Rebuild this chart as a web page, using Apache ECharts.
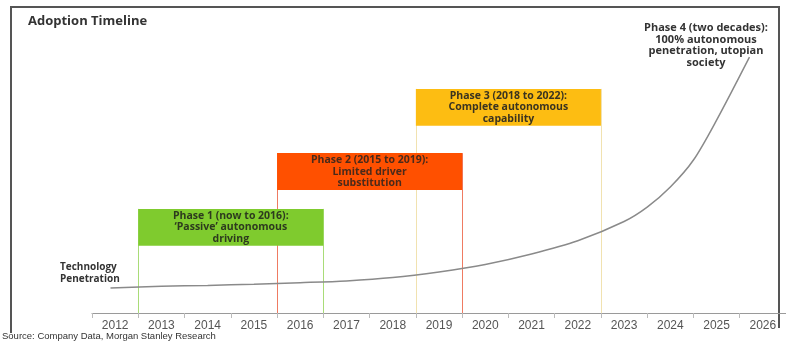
<!DOCTYPE html>
<html>
<head>
<meta charset="utf-8">
<script src="https://cdn.jsdelivr.net/npm/echarts@6/dist/echarts.min.js"></script>
<style>
html,body{margin:0;padding:0;background:#fff;}
#chart{width:786px;height:343px;}
</style>
</head>
<body>
<div id="chart"></div>
<script>
// ---- data ----
const years = ['2012','2013','2014','2015','2016','2017','2018','2019','2020','2021','2022','2023','2024','2025','2026'];
// technology penetration curve (x in fractional years, y in arbitrary units 0-100)
const curveYears = [2011.9, 2013, 2014, 2015, 2016, 2017, 2018, 2019, 2020, 2021, 2022, 2023, 2023.5, 2024, 2024.5, 2025, 2025.71];
const curveValues = [8.3, 8.9, 9.2, 9.6, 10.1, 10.7, 11.8, 13.7, 16.2, 19.7, 24.1, 30.5, 35.3, 42.0, 51.0, 64.3, 85.3];
// phases
const phaseNames = ['Phase 1 (now to 2016):\n\u2018Passive\u2019 autonomous\ndriving',
                    'Phase 2 (2015 to 2019):\nLimited driver\nsubstitution',
                    'Phase 3 (2018 to 2022):\nComplete autonomous\ncapability'];
const phaseFirstYear = [2013, 2016, 2019];
const phaseLastYear = [2016, 2019, 2022];
const phaseLevel = [34.7, 53.3, 74.7];
const phase4Text = 'Phase 4 (two decades):\n100% autonomous\npenetration, utopian\nsociety';

// ---- styles ----
const headerFill = ['#7fcb2e', '#ff5000', '#fdbd12'];
const outlineColor = ['#a9dc78', '#ef7b62', '#f1e2b0'];
const headerTextColor = ['#2d3a1e', '#4a2a1a', '#3a3320'];
const headerHeight = 12.3;

const chart = echarts.init(document.getElementById('chart'));

const lineSeries = [], headerSeries = [];
for (let i = 0; i < phaseNames.length; i++) {
  const x0 = phaseFirstYear[i] - 0.5, x1 = phaseLastYear[i] + 0.5;
  lineSeries.push({
    type: 'line', xAxisIndex: 1, data: [], symbol: 'none', silent: true, z: 1,
    markLine: {
      silent: true, z: 1, symbol: ['none', 'none'], label: { show: false },
      lineStyle: { color: outlineColor[i], width: 1, type: 'solid' },
      data: [
        [{ coord: [x0, 0] }, { coord: [x0, phaseLevel[i]] }],
        [{ coord: [x1, 0] }, { coord: [x1, phaseLevel[i]] }]
      ]
    }
  });
  headerSeries.push({
    type: 'line', xAxisIndex: 1, data: [], symbol: 'none', silent: true, z: 3 + i,
    markArea: {
      silent: true, z: 3 + i,
      data: [[
        { xAxis: x0, yAxis: phaseLevel[i] - headerHeight, name: phaseNames[i],
          itemStyle: { color: headerFill[i], borderWidth: 0 },
          label: { show: true, position: 'inside', color: headerTextColor[i], fontSize: 10.5, fontWeight: 'bold',
                   fontFamily: 'Open Sans', lineHeight: 11.5, align: 'center', formatter: '{b}' } },
        { xAxis: x1, yAxis: phaseLevel[i] }
      ]]
    }
  });
}

const option = {
  animation: false,
  grid: { left: 92, right: -1, top: 13, bottom: 30, containLabel: false },
  xAxis: [
    { type: 'category', data: years, boundaryGap: true,
      axisLine: { lineStyle: { color: '#9a9a9a', width: 1 } },
      axisTick: { show: true, length: 5, lineStyle: { color: '#bbbbbb' } },
      axisLabel: { color: '#555', fontSize: 12, fontFamily: 'Liberation Sans', margin: 7 },
      splitLine: { show: false } },
    { type: 'value', min: 2011.5, max: 2026.5, show: false }
  ],
  yAxis: { type: 'value', min: 0, max: 100, show: false },
  series: lineSeries.concat(headerSeries, [
    { type: 'line', xAxisIndex: 1, smooth: 0.3, symbol: 'none',
      data: curveYears.map((y, i) => [y, curveValues[i]]),
      lineStyle: { color: '#8a8a8a', width: 1.5 },
      z: 10
    }
  ]),
  graphic: [
    { type: 'line', shape: { x1: 11, y1: 7, x2: 11, y2: 333 }, style: { stroke: '#555', lineWidth: 2 } },
    { type: 'line', shape: { x1: 10, y1: 7, x2: 780, y2: 7 }, style: { stroke: '#555', lineWidth: 2 } },
    { type: 'line', shape: { x1: 779, y1: 6, x2: 779, y2: 328 }, style: { stroke: '#555', lineWidth: 2 } },
    { type: 'text', left: 28, top: 15, style: { text: 'Adoption Timeline', font: 'bold 13px "Open Sans"', fill: '#333' } },
    { type: 'text', left: 2, top: 331, style: { text: 'Source: Company Data, Morgan Stanley Research', font: '9.5px "Liberation Sans"', fill: '#333' } },
    { type: 'text', left: 60, top: 261, style: { text: 'Technology\nPenetration', font: 'bold 10px "Open Sans"', lineHeight: 12, fill: '#333' } },
    { type: 'text', x: 706, y: 22, style: { text: phase4Text, font: 'bold 11px "Open Sans"', lineHeight: 11.7, fill: '#333', align: 'center' } }
  ]
};
chart.setOption(option);
</script>
</body>
</html>
